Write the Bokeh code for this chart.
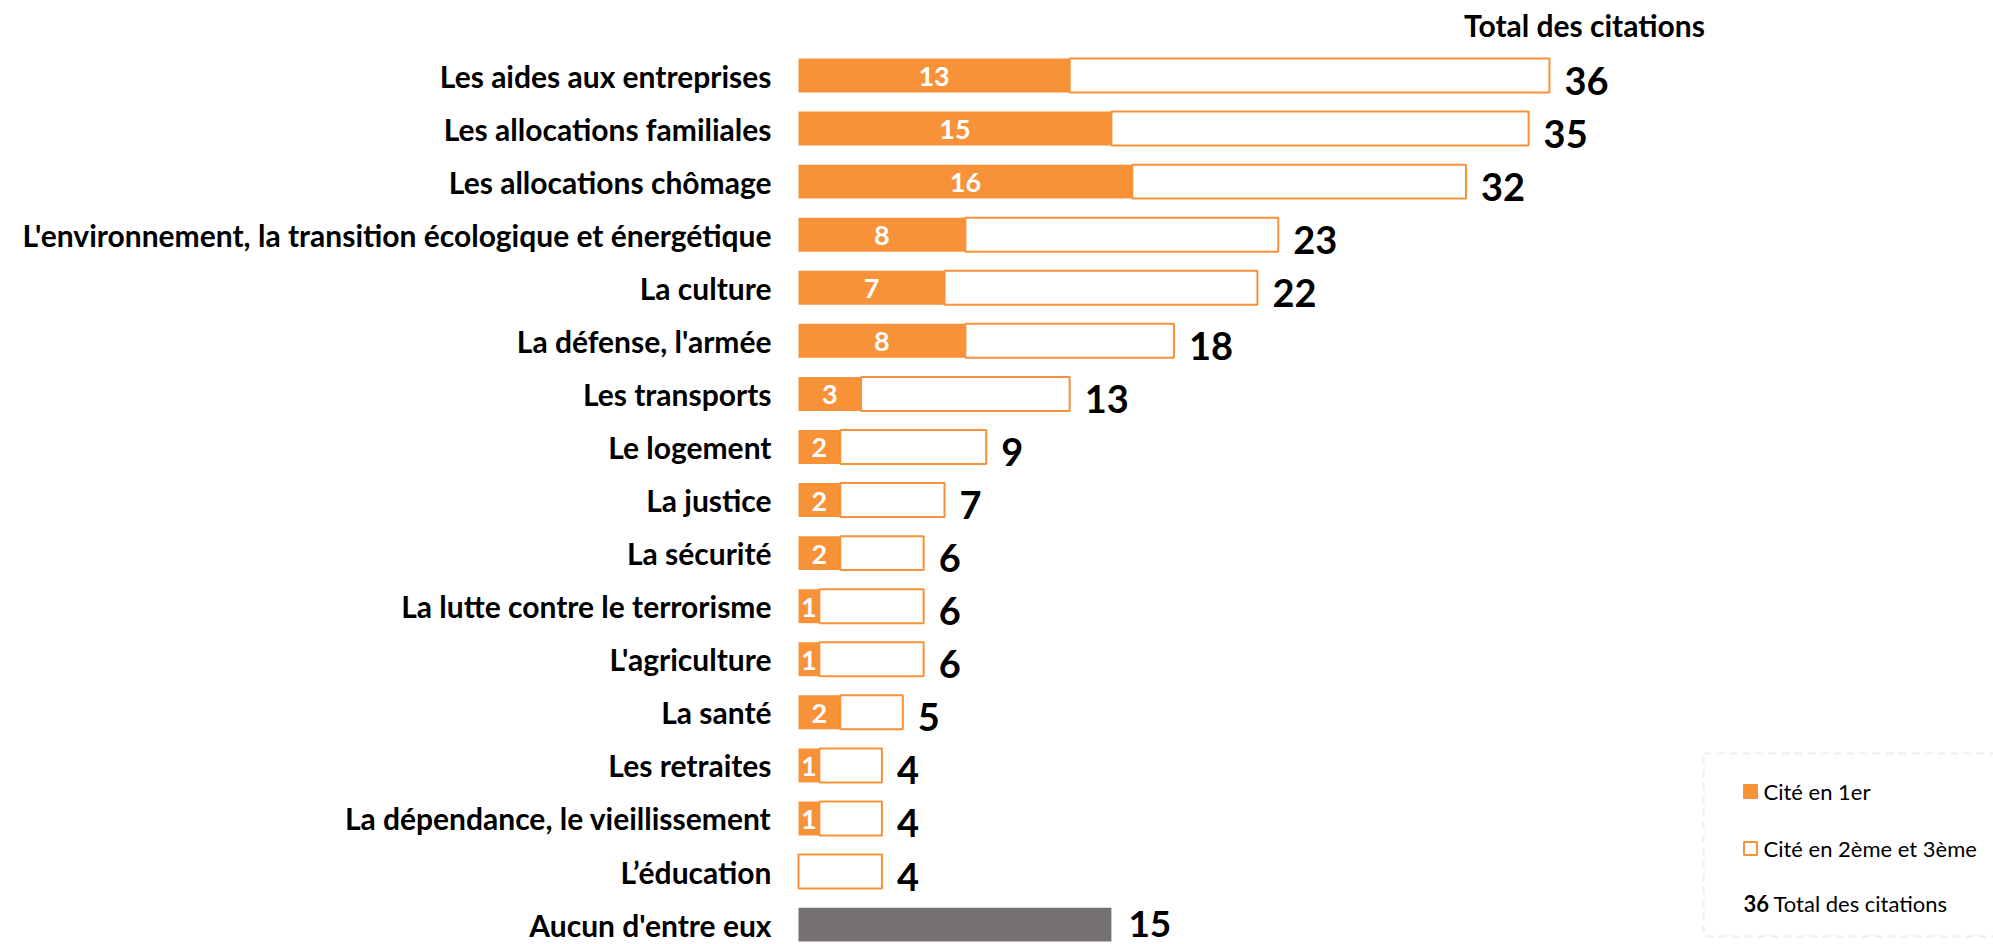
from bokeh.plotting import figure
from bokeh.models import Range1d, BoxAnnotation, ColumnDataSource
from bokeh.core.properties import value
from bokeh.embed import file_html
from bokeh.resources import INLINE
import numpy as np

# ---------------- data ----------------
categories = [
    "Les aides aux entreprises",
    "Les allocations familiales",
    "Les allocations chômage",
    "L'environnement, la transition écologique et énergétique",
    "La culture",
    "La défense, l'armée",
    "Les transports",
    "Le logement",
    "La justice",
    "La sécurité",
    "La lutte contre le terrorisme",
    "L'agriculture",
    "La santé",
    "Les retraites",
    "La dépendance, le vieillissement",
    "L’éducation",
]
first_cited = [13, 15, 16, 8, 7, 8, 3, 2, 2, 2, 1, 1, 2, 1, 1, 0]
total_cited = [36, 35, 32, 23, 22, 18, 13, 9, 7, 6, 6, 6, 5, 4, 4, 4]
none_label = "Aucun d'entre eux"
none_value = 15

title_text = "Total des citations"
legend_first = "Cité en 1er"
legend_second = "Cité en 2ème et 3ème"
legend_total = "Total des citations"

# ---------------- layout constants ----------------
W, H = 1993, 944
PPU = 20.86          # pixels per unit on x
X0 = 798             # canvas x of value 0
ROW = 53.07          # row spacing px
ROW0 = 75            # canvas y of first row centre
ORANGE = "#F79239"
GREY = "#767171"
FONT = "Lato"

n = len(categories) + 1
ypos = list(np.arange(n - 1, -1, -1, dtype=float))   # top row highest
y_top = (n - 1) + ROW0 / ROW
y_bot = y_top - H / ROW

def px2x(cx):
    return (cx - X0) / PPU

def px2y(cy):
    return y_top - cy / ROW

p = figure(width=W, height=H, output_backend="svg", toolbar_location=None,
           x_range=Range1d(px2x(0), px2x(W)), y_range=Range1d(y_bot, y_top),
           min_border=0, min_border_left=0, min_border_right=0,
           min_border_top=0, min_border_bottom=0)
p.axis.visible = False
p.grid.visible = False
p.outline_line_color = None
p.background_fill_color = "white"
p.border_fill_color = "white"

ys = ypos[:-1]
src = ColumnDataSource(dict(
    y=ys, cat=categories, first=first_cited, total=total_cited,
    mid=[f / 2 for f in first_cited],
    flab=[str(f) if f > 0 else "" for f in first_cited],
    tlab=[str(t) for t in total_cited],
))

BH = 0.64
# orange part (cited first)
p.hbar(y="y", left=0, right="first", height=BH, source=src,
       fill_color=ORANGE, line_color=None)
# inner labels
p.text(x="mid", y="y", text="flab", source=src, text_color="white",
       text_font=value(FONT), text_font_style="bold", text_font_size="27px",
       text_align="center", text_baseline="middle", y_offset=1)
# white part (cited 2nd / 3rd)
p.hbar(y="y", left="first", right="total", height=BH, source=src,
       fill_color="white", line_color=ORANGE, line_width=2)
# totals
p.text(x="total", y="y", text="tlab", source=src, text_color="black",
       text_font=value(FONT), text_font_style="bold", text_font_size="38px",
       text_align="left", text_baseline="middle", x_offset=15, y_offset=5)
# category labels
p.text(x=px2x(771), y="y", text="cat", source=src, text_color="black",
       text_font=value(FONT), text_font_style="bold", text_font_size="30px",
       text_align="right", text_baseline="middle", y_offset=0)

# "Aucun d'entre eux"
ysrc = ColumnDataSource(dict(y=[ypos[-1]], v=[none_value], lab=[str(none_value)], cat=[none_label]))
p.hbar(y="y", left=0, right="v", height=BH, source=ysrc, fill_color=GREY, line_color=None)
p.text(x="v", y="y", text="lab", source=ysrc, text_color="black",
       text_font=value(FONT), text_font_style="bold", text_font_size="37px",
       text_align="left", text_baseline="middle", x_offset=17, y_offset=-1)
p.text(x=px2x(771), y="y", text="cat", source=ysrc, text_color="black",
       text_font=value(FONT), text_font_style="bold", text_font_size="30px",
       text_align="right", text_baseline="middle", y_offset=0)

# column title
p.text(x=[px2x(1584)], y=[px2y(24)], text=[title_text], text_color="black",
       text_font=value(FONT), text_font_style="bold", text_font_size="30px",
       text_align="center", text_baseline="middle")

# legend box
p.add_layout(BoxAnnotation(left=px2x(1703), right=px2x(W + 20), top=px2y(753), bottom=px2y(936),
                           fill_color=None, line_color="#CFCFCF", line_width=2.5, line_dash="8 5"))
p.scatter(x=[px2x(1750)], y=[px2y(791)], marker="square", size=14,
          fill_color=ORANGE, line_color=ORANGE)
p.scatter(x=[px2x(1750)], y=[px2y(848)], marker="square", size=13,
          fill_color="white", line_color=ORANGE, line_width=2)
p.text(x=[px2x(1763)] * 2, y=[px2y(791), px2y(848)], text=[legend_first, legend_second],
       text_color="black", text_font=value(FONT), text_font_size="22px",
       text_align="left", text_baseline="middle")
p.text(x=[px2x(1743)], y=[px2y(903)], text=[str(total_cited[0])], text_color="black",
       text_font=value(FONT), text_font_style="bold", text_font_size="22px",
       text_align="left", text_baseline="middle")
p.text(x=[px2x(1773)], y=[px2y(903)], text=[legend_total], text_color="black",
       text_font=value(FONT), text_font_size="22px",
       text_align="left", text_baseline="middle")

open("out.html", "w").write(file_html(p, INLINE))
